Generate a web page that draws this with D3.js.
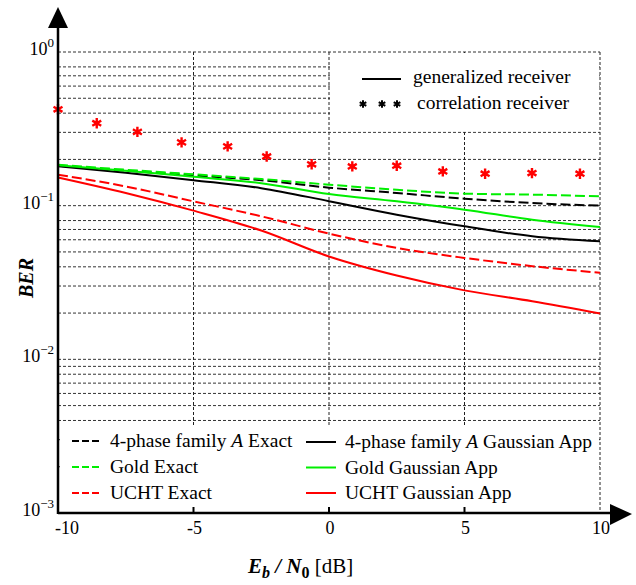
<!DOCTYPE html>
<html>
<head>
<meta charset="utf-8">
<script src="https://cdn.jsdelivr.net/npm/d3@7"></script>
<style>
  body { margin: 0; background: #fff; }
  svg text { font-family: "Liberation Serif", Tinos, "Times New Roman", Times, serif; }
</style>
</head>
<body>
<div id="root"></div>
<script>
// Eb/N0 in dB, where the curves were read
const snr = [-10, -7.5, -5, -2.5, 0, 2.5, 5, 7.5, 10];
// exact BER (dashed)
const fourPhaseExact = [0.182, 0.169, 0.157, 0.1465, 0.131, 0.121, 0.111, 0.104, 0.100];
const goldExact = [0.1846, 0.1713, 0.160, 0.149, 0.137, 0.127, 0.1197, 0.118, 0.115];
const uchtExact = [0.159, 0.1334, 0.1067, 0.0853, 0.0658, 0.0531, 0.0457, 0.0404, 0.0366];
// gaussian approximation (solid)
const fourPhaseGauss = [0.1805, 0.1637, 0.1465, 0.130, 0.107, 0.0874, 0.0734, 0.0632, 0.0586];
const goldGauss = [0.183, 0.169, 0.154, 0.140, 0.119, 0.1067, 0.0942, 0.0811, 0.0727];
const uchtGauss = [0.1527, 0.121, 0.0928, 0.0689, 0.0467, 0.0351, 0.0281, 0.0239, 0.0199];
// correlation receiver (red stars)
const corrSnr = [-10, -8.57, -7.07, -5.44, -3.74, -2.3, -0.64, 0.86, 2.5, 4.2, 5.76, 7.49, 9.26];
const corrBer = [0.424, 0.344, 0.302, 0.258, 0.243, 0.209, 0.186, 0.180, 0.182, 0.167, 0.1614, 0.163, 0.1614];

const xTicks = [-10, -5, 0, 5, 10];
const yDecades = [1, 0.1, 0.01, 0.001];
const yTickLabels = ["0", "\u22121", "\u22122", "\u22123"];

const series = [
  { name: "4-phase family A Exact", values: fourPhaseExact, color: "#000", dash: "10,4" },
  { name: "Gold Exact", values: goldExact, color: "#00ee00", dash: "10,4" },
  { name: "UCHT Exact", values: uchtExact, color: "#ff0000", dash: "10,4" },
  { name: "4-phase family A Gaussian App", values: fourPhaseGauss, color: "#000", dash: null },
  { name: "Gold Gaussian App", values: goldGauss, color: "#00ee00", dash: null },
  { name: "UCHT Gaussian App", values: uchtGauss, color: "#ff0000", dash: null }
];

const width = 636, height = 585;
const x = d3.scaleLinear().domain([-10, 10]).range([58, 600]);
const y = d3.scaleLog().domain([1e-3, 1]).range([513, 52]);

const svg = d3.select("#root").append("svg")
  .attr("width", width)
  .attr("height", height);

// grid (the original has no 0.9 line in the two upper decades)
const minor = [];
for (let e = 0; e > -3; e--) {
  for (let m = 1; m <= 9; m++) {
    if (m === 9 && e > -2) continue;
    minor.push(m * Math.pow(10, e - 1));
  }
}
minor.push(1);
svg.append("g")
  .selectAll("line")
  .data(minor)
  .join("line")
  .attr("x1", x(-10)).attr("x2", x(10))
  .attr("y1", d => y(d)).attr("y2", d => y(d))
  .attr("stroke", "#333")
  .attr("stroke-width", 1)
  .attr("stroke-dasharray", "3,2");

svg.append("g")
  .selectAll("line")
  .data(xTicks.slice(1))
  .join("line")
  .attr("x1", d => x(d)).attr("x2", d => x(d))
  .attr("y1", y(1)).attr("y2", y(1e-3))
  .attr("stroke", "#222")
  .attr("stroke-width", 1)
  .attr("stroke-dasharray", "3,2");

// legend backgrounds hide the grid
svg.append("rect").attr("x", x(0) + 1).attr("y", y(1) + 1)
  .attr("width", x(10) - x(0) - 2).attr("height", y(0.3) - y(1) - 2)
  .attr("fill", "#fff");
svg.append("rect").attr("x", x(-10) + 2).attr("y", 425)
  .attr("width", x(10) - x(-10) - 3).attr("height", y(1e-3) - 425)
  .attr("fill", "#fff");

// curves
const line = d3.line()
  .x((d, i) => x(snr[i]))
  .y(d => y(d))
  .curve(d3.curveMonotoneX);

svg.append("g")
  .selectAll("path")
  .data(series)
  .join("path")
  .attr("d", d => line(d.values))
  .attr("fill", "none")
  .attr("stroke", d => d.color)
  .attr("stroke-width", 2)
  .attr("stroke-dasharray", d => d.dash);

// stars
const star = d3.symbol().type(d3.symbolAsterisk).size(75);
svg.append("g")
  .selectAll("path")
  .data(corrBer)
  .join("path")
  .attr("transform", (d, i) => `translate(${x(corrSnr[i])},${y(d)})`)
  .attr("d", star)
  .attr("fill", "none")
  .attr("stroke", "#ff0000")
  .attr("stroke-width", 2.4);

// axes
svg.append("line")
  .attr("x1", x(-10)).attr("x2", 612)
  .attr("y1", y(1e-3)).attr("y2", y(1e-3))
  .attr("stroke", "#000").attr("stroke-width", 2.5);
svg.append("path")
  .attr("d", "M610,504 L632,514 L610,525 Z")
  .attr("fill", "#000");
svg.append("line")
  .attr("x1", x(-10)).attr("x2", x(-10))
  .attr("y1", y(1e-3) + 1).attr("y2", 26)
  .attr("stroke", "#000").attr("stroke-width", 2.5);
svg.append("path")
  .attr("d", "M48,28 L58,7 L68,28 Z")
  .attr("fill", "#000");

svg.append("g")
  .selectAll("line")
  .data(xTicks.slice(1, 4))
  .join("line")
  .attr("x1", d => x(d)).attr("x2", d => x(d))
  .attr("y1", y(1e-3)).attr("y2", y(1e-3) - 6)
  .attr("stroke", "#000").attr("stroke-width", 2);

svg.append("g")
  .selectAll("text")
  .data(xTicks)
  .join("text")
  .attr("x", d => d === -10 ? x(d) + 9 : x(d) + 1)
  .attr("y", 534)
  .attr("text-anchor", "middle")
  .attr("font-size", 18)
  .text(d => d);

const yl = svg.append("g")
  .selectAll("text")
  .data(yDecades)
  .join("text")
  .attr("x", 54)
  .attr("y", d => y(d) + 3)
  .attr("text-anchor", "end")
  .attr("font-size", 18);
yl.append("tspan").text("10");
yl.append("tspan")
  .attr("font-size", 13)
  .attr("dy", -8)
  .text((d, i) => yTickLabels[i]);

// axis titles
svg.append("text")
  .attr("transform", "translate(33,278) rotate(-90)")
  .attr("text-anchor", "middle")
  .attr("font-size", 20)
  .attr("font-weight", "bold")
  .attr("font-style", "italic")
  .text("BER");

const xt = svg.append("text")
  .attr("x", 248)
  .attr("y", 573)
  .attr("font-size", 21);
xt.append("tspan").attr("font-weight", "bold").attr("font-style", "italic").text("E");
xt.append("tspan").attr("font-weight", "bold").attr("font-style", "italic")
  .attr("font-size", 16).attr("dy", 5).text("b");
xt.append("tspan").attr("font-weight", "bold").attr("font-style", "italic")
  .attr("dy", -5).text(" / ");
xt.append("tspan").attr("font-weight", "bold").attr("font-style", "italic").text("N");
xt.append("tspan").attr("font-weight", "bold")
  .attr("font-size", 16).attr("dy", 5).text("0");
xt.append("tspan").attr("dy", -5).text("  [dB]");

// top legend
svg.append("line")
  .attr("x1", 362).attr("x2", 401).attr("y1", 79).attr("y2", 79)
  .attr("stroke", "#000").attr("stroke-width", 2);
svg.append("text").attr("x", 413).attr("y", 83).attr("font-size", 19.5)
  .text("generalized receiver");
svg.append("g")
  .selectAll("path")
  .data([363, 382, 397])
  .join("path")
  .attr("transform", d => `translate(${d},104)`)
  .attr("d", d3.symbol().type(d3.symbolAsterisk).size(40))
  .attr("stroke", "#000").attr("stroke-width", 2);
svg.append("text").attr("x", 417).attr("y", 109).attr("font-size", 19.5)
  .text("correlation receiver");

// bottom legend
const leg = svg.append("g")
  .selectAll("g")
  .data(series)
  .join("g")
  .attr("transform", (d, i) => {
    const col = Math.floor(i / 3), row = i % 3;
    return col === 0
      ? `translate(72,${441 + row * 26})`
      : `translate(306,${442 + row * 25.5})`;
  });
leg.append("line")
  .attr("x1", 0).attr("x2", 30)
  .attr("stroke", d => d.color)
  .attr("stroke-width", 2)
  .attr("stroke-dasharray", d => d.dash ? "7,3" : null);
const lt = leg.append("text")
  .attr("x", (d, i) => i < 3 ? 38 : 39)
  .attr("y", 6)
  .attr("font-size", 19.5);
lt.each(function(d) {
  const t = d3.select(this);
  const parts = d.name.split(" A ");
  if (parts.length === 2) {
    t.append("tspan").text(parts[0] + " ");
    t.append("tspan").attr("font-style", "italic").text("A");
    t.append("tspan").text(" " + parts[1]);
  } else {
    t.text(d.name);
  }
});
</script>
</body>
</html>
